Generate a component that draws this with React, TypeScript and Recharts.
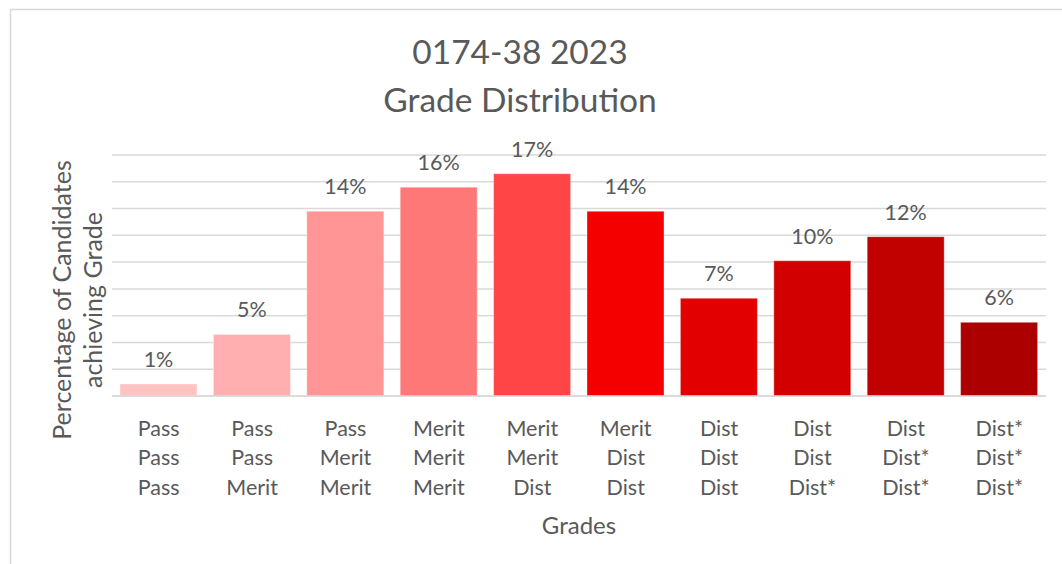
import React from "react";
import { BarChart, Bar, XAxis, YAxis, CartesianGrid, Cell, LabelList } from "recharts";

const grades = [
  "Pass\nPass\nPass",
  "Pass\nPass\nMerit",
  "Pass\nMerit\nMerit",
  "Merit\nMerit\nMerit",
  "Merit\nMerit\nDist",
  "Merit\nDist\nDist",
  "Dist\nDist\nDist",
  "Dist\nDist\nDist*",
  "Dist\nDist*\nDist*",
  "Dist*\nDist*\nDist*",
];

const percentages = [0.9, 4.6, 13.8, 15.6, 16.6, 13.8, 7.3, 10.1, 11.9, 5.5];

const barColors = [
  "#FFC3C3",
  "#FFAFAF",
  "#FF9595",
  "#FF7878",
  "#FF4545",
  "#F50000",
  "#E30000",
  "#D30000",
  "#C10000",
  "#AC0000",
];

const yTicks = [0, 2, 4, 6, 8, 10, 12, 14, 16, 18];

const data = grades.map((grade, i) => ({ grade, value: percentages[i] }));

const FONT = "Lato, 'Noto Sans', sans-serif";
const TEXT = "#595959";

function GradeTick(props: any) {
  const { x, y, payload } = props;
  const lines = String(payload.value).split("\n");
  return (
    <text x={x} y={y} textAnchor="middle" fill={TEXT} fontSize={21.5} fontFamily={FONT}>
      {lines.map((line, i) => (
        <tspan key={i} x={x} y={y + 39.5 + i * 29.5}>
          {line}
        </tspan>
      ))}
    </text>
  );
}

export default function App() {
  return (
    <div style={{ position: "absolute", left: 0, top: 0, width: 1062, height: 564, background: "#fff" }}>
      <BarChart
        width={1062}
        height={564}
        data={data}
        margin={{ top: 155, right: 16, bottom: 68, left: 112 }}
        barCategoryGap={8}
      >
        <CartesianGrid vertical={false} stroke="#D9D9D9" strokeWidth={1.5} />
        <YAxis hide domain={[0, 18]} ticks={yTicks} type="number" />
        <XAxis
          dataKey="grade"
          height={100}
          interval={0}
          tickLine={false}
          tickSize={0}
          tickMargin={0}
          axisLine={{ stroke: "#D9D9D9", strokeWidth: 1.5 }}
          tick={<GradeTick />}
        />
        <Bar dataKey="value" isAnimationActive={false} stroke="#ffffff" strokeOpacity={0.35}>
          {data.map((d, i) => (
            <Cell key={d.grade} fill={barColors[i]} />
          ))}
          <LabelList
            dataKey="value"
            position="top"
            offset={17}
            formatter={(v: any) => `${Math.round(Number(v))}%`}
            fill={TEXT}
            fontSize={21.5}
            fontFamily={FONT}
          />
        </Bar>
      </BarChart>
      <svg
        width={1062}
        height={564}
        style={{ position: "absolute", left: 0, top: 0, pointerEvents: "none" }}
      >
        <rect x={10.5} y={9.5} width={1100} height={600} fill="none" stroke="#D9D9D9" strokeWidth={1.5} />
        <text x={520} y={64} textAnchor="middle" fill={TEXT} fontSize={33.5} fontFamily={FONT}>
          0174-38 2023
        </text>
        <text x={520} y={112} textAnchor="middle" fill={TEXT} fontSize={33.5} fontFamily={FONT}>
          Grade Distribution
        </text>
        <text x={579} y={534} textAnchor="middle" fill={TEXT} fontSize={24} fontFamily={FONT}>
          Grades
        </text>
        <g transform="translate(0,300) rotate(-90)">
          <text x={0} y={71} textAnchor="middle" fill={TEXT} fontSize={25} fontFamily={FONT}>
            Percentage of Candidates
          </text>
          <text x={0} y={102} textAnchor="middle" fill={TEXT} fontSize={25} fontFamily={FONT}>
            achieving Grade
          </text>
        </g>
      </svg>
    </div>
  );
}
